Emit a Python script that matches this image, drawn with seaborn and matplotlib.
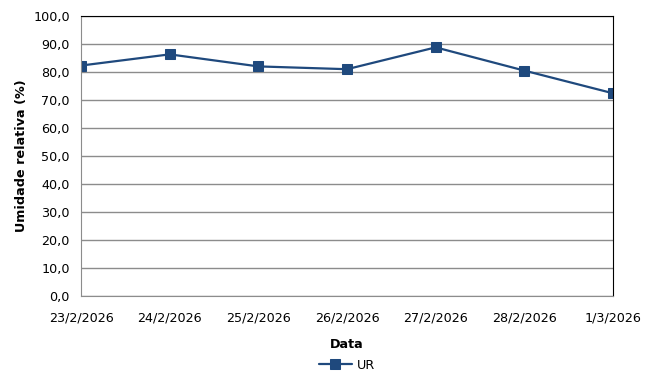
import matplotlib
matplotlib.use("Agg")
import matplotlib.pyplot as plt
import seaborn as sns
import pandas as pd

dates = ["23/2/2026", "24/2/2026", "25/2/2026", "26/2/2026", "27/2/2026", "28/2/2026", "1/3/2026"]
ur = [82.3, 86.3, 82.0, 81.0, 88.8, 80.5, 72.4]
yticks = [0, 10, 20, 30, 40, 50, 60, 70, 80, 90, 100]

sns.set_style("white")
plt.rcParams['font.family'] = ['DejaVu Sans']
plt.rcParams['text.color'] = 'black'
plt.rcParams['axes.labelcolor'] = 'black'

df = pd.DataFrame({"Data": dates, "UR": ur, "serie": "UR"})

fig = plt.figure(figsize=(6.65, 3.87), dpi=100)
ax = fig.add_axes([81/665, 1-296/387, (613-81)/665, (296-16)/387])

color = "#1F497D"
sns.lineplot(data=df, x="Data", y="UR", hue="serie", palette=[color], sort=False,
             marker="s", markersize=7, markeredgecolor=color, linewidth=1.6, ax=ax)

ax.set_xlim(0, len(dates) - 1)
ax.set_ylim(0, 100)
ax.set_yticks(yticks)
ax.set_yticklabels([f"{v:.1f}".replace(".", ",") for v in yticks], fontsize=9.2)
ax.set_xticks(range(len(dates)))
ax.set_xticklabels(dates, fontsize=9.2)
ax.grid(axis="y", color="#8C8C8C", linewidth=1)
ax.set_axisbelow(True)
for s in ["left", "bottom"]:
    ax.spines[s].set_color("#8C8C8C")
for s in ["top", "right"]:
    ax.spines[s].set_color("black")
    ax.spines[s].set_visible(True)
ax.tick_params(axis="both", direction="out", length=4, color="#8C8C8C", width=1, labelcolor="black")
ax.tick_params(axis="x", pad=7)
ax.tick_params(axis="y", pad=4)
ax.set_xlabel("Data", fontsize=9.2, fontweight="bold", labelpad=10)
ax.set_ylabel("Umidade relativa (%)", fontsize=9.2, fontweight="bold", labelpad=4)

handles, labels = ax.get_legend_handles_labels()
ax.legend(handles, ["UR"], loc="center", bbox_to_anchor=(0.5, -0.248), frameon=False,
          fontsize=9.2, handlelength=2.6, handletextpad=0.4)

fig.savefig("out.png", dpi=100)
